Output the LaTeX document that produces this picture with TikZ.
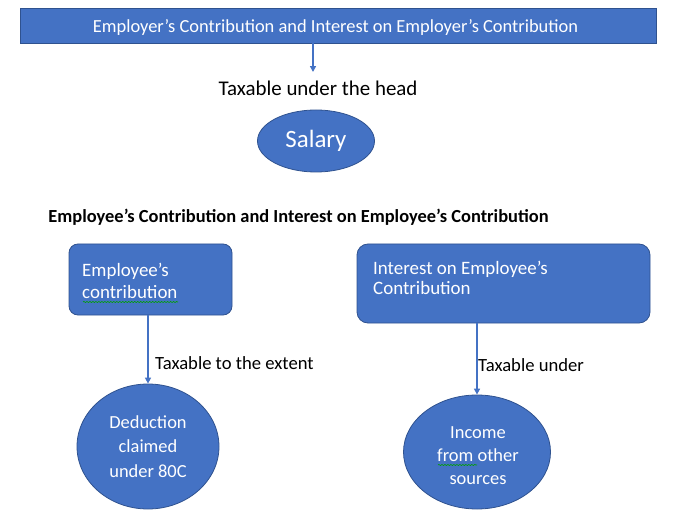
\documentclass[tikz,border=0pt]{standalone}
\usepackage{fontspec}
\setmainfont{Carlito}
\usetikzlibrary{arrows.meta,shapes.geometric,decorations.pathmorphing}
\definecolor{fillblue}{HTML}{4472C4}
\definecolor{edgeblue}{HTML}{2F528F}
\definecolor{spellgreen}{HTML}{00A000}
\tikzset{
  bluebox/.style={draw=edgeblue,fill=fillblue,line width=0.8pt,inner sep=0pt},
  blueoval/.style={ellipse,draw=edgeblue,fill=fillblue,line width=0.8pt,inner sep=0pt,text=white,align=center},
  whitetext/.style={text=white,inner sep=0pt},
  blacktext/.style={text=black,inner sep=0pt},
  link/.style={draw=fillblue,line width=1.5pt,-{Triangle[length=6pt,width=6pt]}},
  squiggle/.style={draw=spellgreen,line width=0.6pt,decorate,decoration={snake,amplitude=0.6pt,segment length=3pt}}
}
\begin{document}
\begin{tikzpicture}[x=1bp,y=-1bp]
\useasboundingbox (0,0) rectangle (684,518);
% top banner
\node[bluebox,minimum width=636bp,minimum height=35bp] (top) at (338,25.5) {};
\node[whitetext,font=\fontsize{18.5}{22}\selectfont] (toptext) at (335.5,27) {Employer’s Contribution and Interest on Employer’s Contribution};
\coordinate (taxin) at (313,72);
\draw[link] (top.south -| taxin) -- (taxin);
\node[blacktext,font=\fontsize{21}{25}\selectfont] (taxhead) at (318,88) {Taxable under the head};
\node[blueoval,minimum width=117bp,minimum height=62bp,font=\fontsize{25}{28}\selectfont] (salary) at (316,141) {Salary};
% heading
\node[blacktext,font=\bfseries\fontsize{18.5}{22}\selectfont] (heading) at (298.5,217.5) {Employee’s Contribution and Interest on Employee’s Contribution};
% left box
\node[bluebox,rounded corners=9bp,minimum width=163bp,minimum height=71bp] (lbox) at (150.5,279.5) {};
\node[whitetext,anchor=west,align=left,font=\fontsize{19}{22}\selectfont] (ltext) at (82,281) {Employee’s\\contribution};
\coordinate (lsq1) at (83,302);
\coordinate (lsq2) at (178,302);
\draw[squiggle] (lsq1) -- (lsq2);
% right box
\node[bluebox,rounded corners=11bp,minimum width=293bp,minimum height=79bp] (rbox) at (503.5,283.5) {};
\node[whitetext,anchor=west,align=left,font=\fontsize{19}{20.5}\selectfont] (rtext) at (373,278) {Interest on Employee’s\\Contribution};
% left arrow and circle
\node[blueoval,minimum width=142bp,minimum height=125bp,font=\fontsize{18.5}{24.5}\selectfont] (lcirc) at (148,446.5) {Deduction\\claimed\\under 80C};
\draw[link] (lbox.south -| lcirc.north) -- (lcirc.north);
\node[blacktext,anchor=west,font=\fontsize{18.7}{22}\selectfont] (llabel) at (155,363) {Taxable to the extent};
% right arrow and circle
\node[blueoval,minimum width=147bp,minimum height=114bp] (rcirc) at (477,452) {};
\node[whitetext,align=center,font=\fontsize{18.5}{23}\selectfont] (rctext) at (478,455.5) {Income\\from other\\sources};
\draw[link] (rbox.south -| rcirc.north) -- (rcirc.north);
\node[blacktext,anchor=west,font=\fontsize{18.7}{22}\selectfont] (rlabel) at (478,365) {Taxable under};
\coordinate (rsq1) at (438,465);
\coordinate (rsq2) at (477,465);
\draw[squiggle] (rsq1) -- (rsq2);
\end{tikzpicture}
\end{document}
